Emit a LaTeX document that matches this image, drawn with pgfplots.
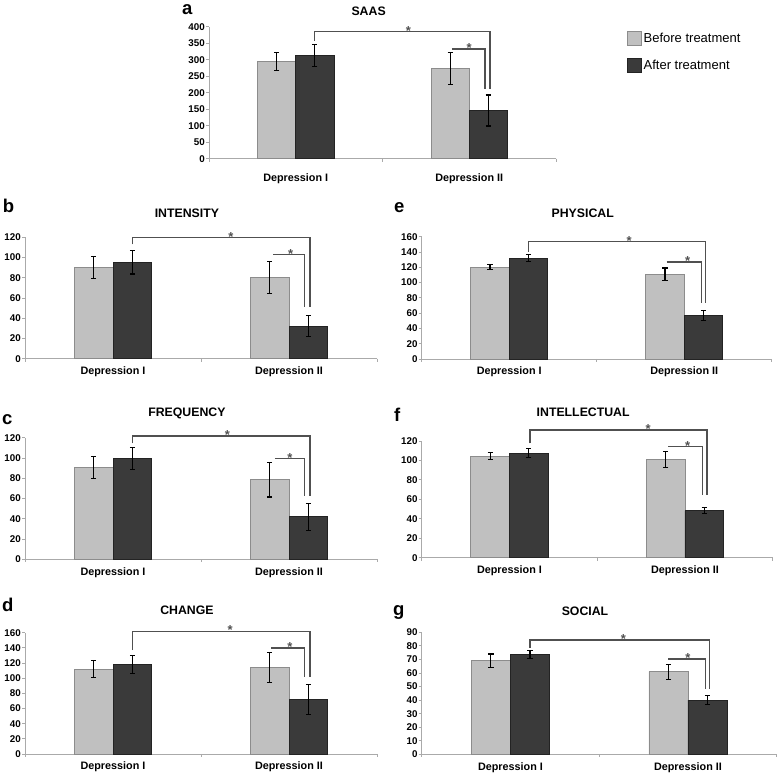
\documentclass[border=0pt]{standalone}
\usepackage{pgfplots}
\pgfplotsset{compat=1.18}
\usepackage{fontspec}
\setmainfont{Liberation Sans}
\definecolor{lgray}{RGB}{192,192,192}
\definecolor{lgrayedge}{RGB}{140,140,140}
\definecolor{dgray}{RGB}{58,58,58}
\definecolor{dgrayedge}{RGB}{35,35,35}
\definecolor{axgray}{RGB}{170,170,170}
\definecolor{brk}{RGB}{80,80,80}
\pgfplotsset{
  panel/.style={
    anchor=south west, scale only axis, clip=false,
    xmin=0, xmax=2, ymin=0,
    axis lines*=left,
    axis line style={axgray, line width=0.8pt},
    xtick={0.5,1.5}, xticklabels={Depression I, Depression II},
    xtick style={draw=none},
    ytick style={axgray, line width=0.8pt},
    tick align=outside, major tick length=3pt,
    ybar=0pt, bar width=0.22,
    /pgf/number format/assume math mode=true,
    yticklabel style={font=\fontsize{9.8}{10}\selectfont\bfseries, inner sep=1pt},
    xticklabel style={font=\fontsize{10.8}{11}\selectfont\bfseries, yshift=-1.5pt},
  },
  errs/.style={error bars/y dir=both, error bars/y explicit,
    error bars/error bar style={black, line width=1.1pt},
    error bars/error mark options={black, rotate=90, mark size=2.6pt, line width=1.1pt}},
  before/.style={fill=lgray, draw=lgrayedge, line width=0.8pt, bar shift=-0.11, errs},
  after/.style={fill=dgray, draw=dgrayedge, line width=0.8pt, bar shift=0.11, errs},
}
\tikzset{
  bracket/.style={brk, line width=1.3pt},
  star/.style={font=\fontsize{13}{12}\selectfont\bfseries, anchor=base, inner sep=0pt, text=brk, yshift=-3.8pt},
  ttl/.style={font=\fontsize{12.3}{12}\selectfont\bfseries, anchor=center},
}
\newcommand{\xticksmarks}{%
  \draw[axgray, line width=0.8pt] (axis cs:0,0) -- ++(0,-3pt);
  \draw[axgray, line width=0.8pt] (axis cs:1,0) -- ++(0,-3pt);
  \draw[axgray, line width=0.8pt] (axis cs:2,0) -- ++(0,-3pt);}
\begin{document}
\begin{tikzpicture}
\useasboundingbox (0,0) rectangle (784pt,776pt);
% ---------- a: SAAS
\begin{axis}[panel, at={(209pt,617.3pt)}, width=347pt, height=132pt,
  ymax=400, ytick={0,50,...,400}, xticklabel style={yshift=-7pt},
  legend style={at={(1.195,0.985)}, anchor=north west, draw=none, fill=none,
    font=\fontsize{13}{13}\selectfont, row sep=12pt, cells={anchor=west}}]
\addplot[legend image code/.code={\draw[fill=lgray,draw=lgrayedge,line width=0.8pt] (0pt,-7pt) rectangle (14pt,7pt);}, before]
  coordinates {(0.5,294) +- (0,28) (1.5,273) +- (0,48)};
\addplot[legend image code/.code={\draw[fill=dgray,draw=dgrayedge,line width=0.8pt] (0pt,-7pt) rectangle (14pt,7pt);}, after]
  coordinates {(0.5,313) +- (0,34) (1.5,146) +- (0,47)};
\legend{Before treatment, After treatment}
\xticksmarks
\draw[bracket] (axis cs:0.61,357) -- (axis cs:0.61,385) -- (axis cs:1.62,385) -- (axis cs:1.62,211);
\draw[bracket] (axis cs:1.40,332) -- (axis cs:1.59,332) -- (axis cs:1.59,211);
\node[star] at (axis cs:1.15,385) {*};
\node[star] at (axis cs:1.50,332) {*};
\node[ttl, yshift=15.7pt] at (rel axis cs:0.46,1) {SAAS};
\end{axis}
% ---------- b: INTENSITY
\begin{axis}[panel, at={(25pt,417.3pt)}, width=352pt, height=121.4pt,
  ymax=120, ytick={0,20,...,120}]
\addplot[before] coordinates {(0.5,90) +- (0,10.6) (1.5,80.5) +- (0,16)};
\addplot[after] coordinates {(0.5,95.5) +- (0,11.8) (1.5,32) +- (0,10.3)};
\xticksmarks
\draw[bracket] (axis cs:0.61,113) -- (axis cs:0.61,120) -- (axis cs:1.62,120) -- (axis cs:1.62,51);
\draw[bracket] (axis cs:1.41,103) -- (axis cs:1.59,103) -- (axis cs:1.59,51);
\node[star] at (axis cs:1.17,120) {*};
\node[star] at (axis cs:1.51,103) {*};
\node[ttl, yshift=24.3pt] at (rel axis cs:0.46,1) {INTENSITY};
\end{axis}
% ---------- c: FREQUENCY
\begin{axis}[panel, at={(25pt,216.7pt)}, width=352pt, height=121.6pt,
  ymax=120, ytick={0,20,...,120}]
\addplot[before] coordinates {(0.5,90.4) +- (0,10.7) (1.5,78.5) +- (0,17)};
\addplot[after] coordinates {(0.5,99.5) +- (0,11) (1.5,42) +- (0,13.5)};
\xticksmarks
\draw[bracket] (axis cs:0.61,114.5) -- (axis cs:0.61,121.7) -- (axis cs:1.62,121.7) -- (axis cs:1.62,62);
\draw[bracket] (axis cs:1.42,99.7) -- (axis cs:1.59,99.7) -- (axis cs:1.59,62);
\node[star] at (axis cs:1.15,121.7) {*};
\node[star] at (axis cs:1.505,99.7) {*};
\node[ttl, yshift=24.7pt] at (rel axis cs:0.46,1) {FREQUENCY};
\end{axis}
% ---------- d: CHANGE
\begin{axis}[panel, at={(25pt,22pt)}, width=352pt, height=121.3pt,
  ymax=160, ytick={0,20,...,160}]
\addplot[before] coordinates {(0.5,112) +- (0,11) (1.5,114) +- (0,20)};
\addplot[after] coordinates {(0.5,118) +- (0,12) (1.5,72) +- (0,20)};
\xticksmarks
\draw[bracket] (axis cs:0.61,137) -- (axis cs:0.61,162) -- (axis cs:1.62,162) -- (axis cs:1.62,101);
\draw[bracket] (axis cs:1.40,140) -- (axis cs:1.59,140) -- (axis cs:1.59,101);
\node[star] at (axis cs:1.165,162) {*};
\node[star] at (axis cs:1.505,140) {*};
\node[ttl, yshift=22.7pt] at (rel axis cs:0.46,1) {CHANGE};
\end{axis}
% ---------- e: PHYSICAL
\begin{axis}[panel, at={(421.7pt,417pt)}, width=350pt, height=122.3pt,
  ymax=160, ytick={0,20,...,160}]
\addplot[before] coordinates {(0.5,120) +- (0,3.3) (1.5,111) +- (0,8)};
\addplot[after] coordinates {(0.5,132) +- (0,5) (1.5,57) +- (0,6.5)};
\xticksmarks
\draw[bracket] (axis cs:0.61,140) -- (axis cs:0.61,154) -- (axis cs:1.62,154) -- (axis cs:1.62,73);
\draw[bracket] (axis cs:1.40,127) -- (axis cs:1.60,127) -- (axis cs:1.60,73);
\node[star] at (axis cs:1.185,154) {*};
\node[star] at (axis cs:1.52,127) {*};
\node[ttl, yshift=23.7pt] at (rel axis cs:0.46,1) {PHYSICAL};
\end{axis}
% ---------- f: INTELLECTUAL
\begin{axis}[panel, at={(421.7pt,218.3pt)}, width=351pt, height=116.7pt,
  ymax=120, ytick={0,20,...,120}]
\addplot[before] coordinates {(0.5,104.5) +- (0,3.3) (1.5,101) +- (0,8)};
\addplot[after] coordinates {(0.5,107.5) +- (0,4.5) (1.5,48.5) +- (0,3)};
\xticksmarks
\draw[bracket] (axis cs:0.617,117.6) -- (axis cs:0.617,131.3) -- (axis cs:1.626,131.3) -- (axis cs:1.626,64.5);
\draw[bracket] (axis cs:1.405,114) -- (axis cs:1.60,114) -- (axis cs:1.60,64.5);
\node[star] at (axis cs:1.29,131.3) {*};
\node[star] at (axis cs:1.515,114) {*};
\node[ttl, yshift=29pt] at (rel axis cs:0.46,1) {INTELLECTUAL};
\end{axis}
% ---------- g: SOCIAL
\begin{axis}[panel, at={(421.7pt,21.7pt)}, width=355pt, height=122pt,
  ymax=90, ytick={0,10,...,90}]
\addplot[before] coordinates {(0.5,69) +- (0,5) (1.5,61) +- (0,5.5)};
\addplot[after] coordinates {(0.5,73.8) +- (0,3) (1.5,40) +- (0,3.2)};
\xticksmarks
\draw[bracket] (axis cs:0.61,78.6) -- (axis cs:0.61,84.3) -- (axis cs:1.62,84.3) -- (axis cs:1.62,48.2);
\draw[bracket] (axis cs:1.39,70.3) -- (axis cs:1.60,70.3) -- (axis cs:1.60,48.2);
\node[star] at (axis cs:1.136,84.3) {*};
\node[star] at (axis cs:1.50,70.3) {*};
\node[ttl, yshift=21.3pt] at (rel axis cs:0.46,1) {SOCIAL};
\end{axis}
% ---------- panel letters
\begin{scope}[every node/.style={anchor=base west, inner sep=0pt, font=\fontsize{18.5}{19}\selectfont\bfseries}]
\node at (182pt,761pt) {a};
\node at (2.7pt,563pt) {b};
\node at (394pt,563pt) {e};
\node at (2pt,351pt) {c};
\node at (394pt,354pt) {f};
\node at (2pt,164pt) {d};
\node at (393pt,160pt) {g};
\end{scope}
\end{tikzpicture}
\end{document}
